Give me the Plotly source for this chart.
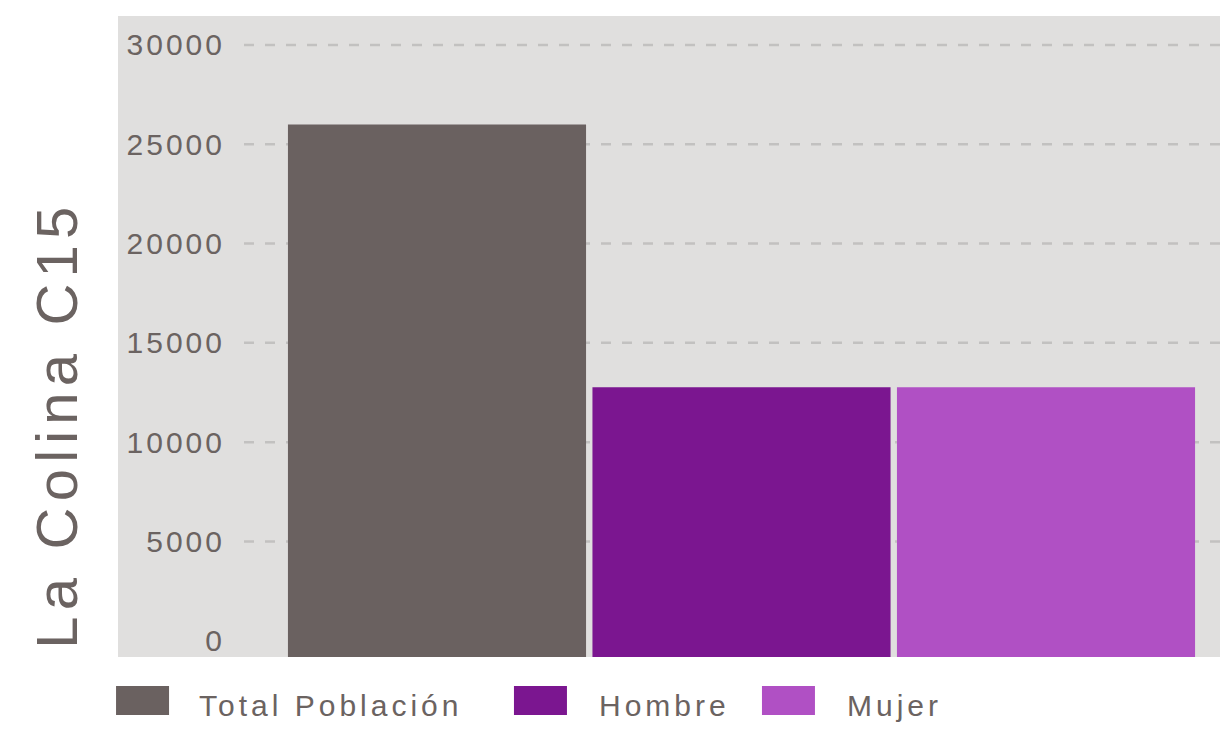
import plotly.graph_objects as go

# ---- data ----
region = "La Colina C15"
series_names = ["Total Población", "Hombre", "Mujer"]
series_values = [26000, 12770, 12770]
series_colors = ["#6a6160", "#7b1690", "#b050c4"]
tick_values = [0, 5000, 10000, 15000, 20000, 25000, 30000]
tick_labels = ["0", "5000", "10000", "15000", "20000", "25000", "30000"]

# ---- style ----
TEXT = "#6b6361"
BG = "#e0dfde"
GRID = "#c2c1c0"
FONT = "Liberation Sans, Arial, Helvetica, sans-serif"
Y_MIN, Y_MAX = -820, 31460


def spaced(s, px):
    return f'<span style="letter-spacing:{px}px">{s}</span>'


fig = go.Figure()
for name, val, col in zip(series_names, series_values, series_colors):
    fig.add_trace(go.Bar(
        x=[region], y=[val - Y_MIN], base=Y_MIN, name=name,
        marker=dict(color=col, line=dict(width=0)),
        showlegend=False, hoverinfo="name+text", text=[str(val)], textposition="none",
    ))

shapes = [dict(type="rect", xref="paper", yref="paper", x0=-0.1291, x1=1, y0=0, y1=1,
               fillcolor=BG, line=dict(width=0), layer="below")]
# dashed grid lines (none at the baseline)
for tv in tick_values:
    if tv == 0:
        continue
    shapes.append(dict(type="line", xref="paper", yref="y", x0=0, x1=1, y0=tv, y1=tv,
                       line=dict(color=GRID, width=2.5, dash="10px,11px"), layer="below"))

# legend drawn as swatches + labels
legend_swatch_x = [(-0.1311, -0.0768), (0.2766, 0.3309), (0.5307, 0.5850)]
legend_text_x = [-0.0482, 0.3617, 0.6158]
annotations = []
for (x0, x1), tx, name, col in zip(legend_swatch_x, legend_text_x, series_names, series_colors):
    shapes.append(dict(type="rect", xref="paper", yref="paper", x0=x0, x1=x1,
                       y0=-0.0905, y1=-0.0452, fillcolor=col, line=dict(width=0)))
    annotations.append(dict(xref="paper", yref="paper", x=tx, y=-0.0764, xanchor="left",
                            yanchor="middle", showarrow=False, text=spaced(name, 4),
                            font=dict(size=30, color=TEXT, family=FONT)))

annotations.append(dict(xref="paper", yref="paper", x=-0.1916, y=0.3625, xanchor="center",
                        yanchor="middle", showarrow=False, textangle=-90,
                        text=spaced(region, 6.2), font=dict(size=58, color=TEXT, family=FONT)))

fig.update_layout(
    width=1220, height=733,
    margin=dict(l=244, r=0, t=16, b=76),
    paper_bgcolor="white", plot_bgcolor=BG,
    barmode="group", bargap=0, bargroupgap=0.021,
    font=dict(family=FONT, color=TEXT),
    shapes=shapes, annotations=annotations,
    xaxis=dict(range=[-0.5446, 0.5238], visible=False, fixedrange=True),
    yaxis=dict(range=[Y_MIN, Y_MAX], tickvals=tick_values,
               ticktext=[spaced(t, 3) for t in tick_labels],
               ticks="", ticklabelstandoff=18, showline=False, zeroline=False,
               showgrid=False, fixedrange=True,
               tickfont=dict(size=30, color=TEXT, family=FONT)),
    showlegend=False,
)

fig.write_html("out.html", config={"displayModeBar": False},
               post_script="document.body.style.margin='0';")
